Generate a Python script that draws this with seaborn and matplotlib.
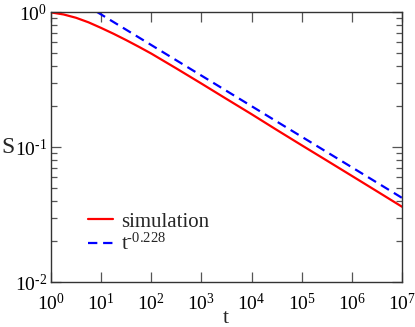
import numpy as np
import pandas as pd
import seaborn as sns
import matplotlib.pyplot as plt
from matplotlib.ticker import FuncFormatter

# simulation curve
t_sim = [1, 1.78, 3.16, 5.62, 10, 17.8, 31.6, 56.2, 100, 316, 1e3, 3.16e3,
         1e4, 3.16e4, 1e5, 3.16e5, 1e6, 3.16e6, 1e7]
s_sim = [0.993, 0.959, 0.906, 0.838, 0.762, 0.689, 0.619, 0.553, 0.492,
         0.382, 0.295, 0.227, 0.175, 0.134, 0.103, 0.0794, 0.0611, 0.0470,
         0.0361]

# power-law guide line t^-0.228 (end points)
t_fit = [8.3, 1e7]
s_fit = [1.0, 0.042]

sns.set_style("ticks")
plt.rcParams['font.family'] = ['Liberation Serif', 'DejaVu Serif']
plt.rcParams['mathtext.fontset'] = 'custom'
plt.rcParams['mathtext.rm'] = 'Liberation Serif'
plt.rcParams['mathtext.it'] = 'Liberation Serif:italic'

df_sim = pd.DataFrame({'t': t_sim, 'S': s_sim})
df_fit = pd.DataFrame({'t': t_fit, 'S': s_fit})


def pow_label(v, pos):
    k = int(round(np.log10(v)))
    e = str(k).replace('-', '\u2010')
    return r'$\mathregular{10^{%s}}$' % e


fig = plt.figure(figsize=(4.15, 3.27), dpi=100)
ax = fig.add_axes([0.1229, 0.1376, 0.8458, 0.8257])

sns.lineplot(data=df_sim, x='t', y='S', ax=ax, color='#ff0000', lw=1.6,
             label='simulation')
sns.lineplot(data=df_fit, x='t', y='S', ax=ax, color='#0000ff', lw=1.6,
             label='t$\\mathregular{^{\u20100.228}}$')
ax.lines[1].set_dashes((4.2, 2.6))

ax.set_xscale('log')
ax.set_yscale('log')
ax.set_xlim(1, 1e7)
ax.set_ylim(1e-2, 1)
ax.set_xticks([10.0 ** k for k in range(8)])
ax.xaxis.set_minor_locator(plt.NullLocator())
ax.xaxis.set_major_formatter(FuncFormatter(pow_label))
ax.yaxis.set_major_formatter(FuncFormatter(pow_label))

ax.tick_params(which='both', direction='in', top=True, right=True,
               color='#555555', width=0.9, labelsize=14, colors='black')
ax.tick_params(which='major', length=7)
ax.tick_params(which='minor', length=4)
ax.tick_params(axis='x', pad=8)
ax.tick_params(axis='y', pad=3)
for sp in ax.spines.values():
    sp.set_color('#333333')
    sp.set_linewidth(1.0)

ax.set_xlabel('t', fontsize=15.5)
ax.set_ylabel('S', fontsize=17, rotation=0, va='center', ha='center')
ax.xaxis.set_label_coords(0.4986, -0.1)
ax.yaxis.set_label_coords(-0.122, 0.5)

ax.legend(loc='lower left', bbox_to_anchor=(0.076, 0.062), frameon=False,
          fontsize=15, handlelength=1.2, handletextpad=0.4,
          labelspacing=0.1, borderpad=0)

fig.savefig('out.png', dpi=100)
